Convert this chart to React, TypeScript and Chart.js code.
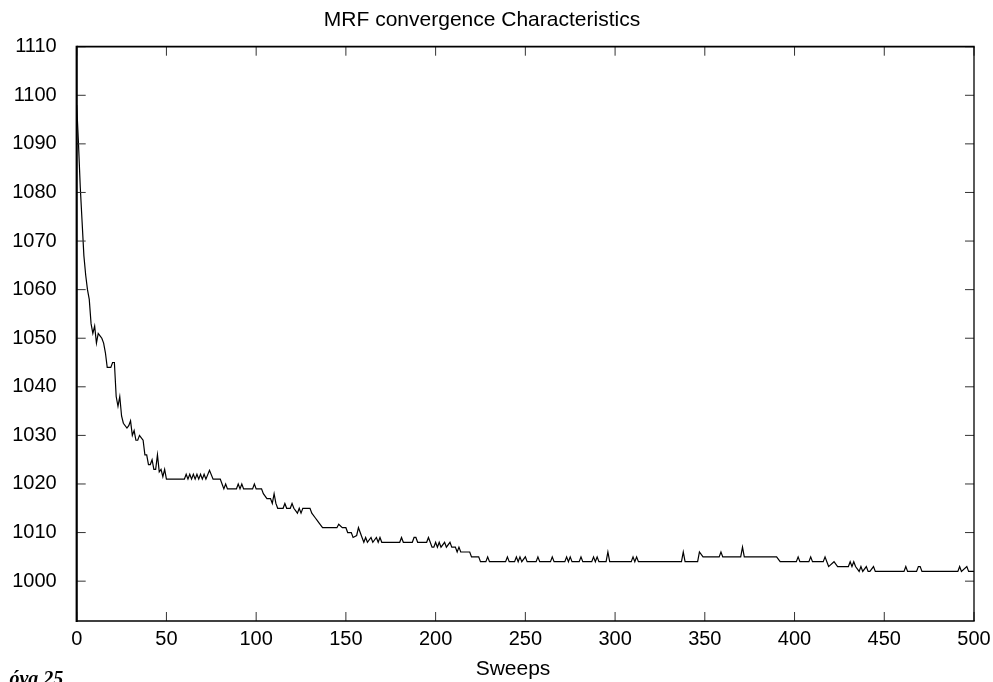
import React, { useEffect, useRef } from 'react';
import { Chart, registerables } from 'chart.js';

Chart.register(...registerables);

// ---- data (polyline vertices) ----
const sweeps = [
  0, 1, 2, 3, 4, 5, 6, 7, 8, 9, 10, 11, 12, 13, 14, 15, 16, 17, 19, 20, 21, 22, 23, 24, 25, 26, 28, 29, 30,
  31, 32, 33, 34, 35, 36, 37, 38, 39, 40, 41, 42, 43, 44, 45, 46, 47, 48, 49, 50, 60, 61, 62, 63, 64, 65,
  66, 67, 68, 69, 70, 71, 72, 74, 76, 80, 81, 82, 83, 84, 89, 90, 91, 92, 93, 98, 99, 100, 103, 104, 106,
  108, 109, 110, 111, 112, 115, 116, 117, 119, 120, 121, 123, 124, 125, 126, 130, 131, 133, 134, 135, 137,
  145, 146, 148, 150, 151, 153, 154, 156, 157, 159, 160, 161, 162, 164, 165, 167, 168, 169, 170, 180, 181,
  182, 187, 188, 189, 190, 195, 196, 197, 198, 199, 200, 201, 202, 203, 205, 206, 208, 209, 211, 212, 213,
  214, 219, 220, 224, 225, 228, 229, 230, 239, 240, 241, 244, 245, 246, 247, 248, 250, 251, 256, 257, 258,
  264, 265, 266, 272, 273, 274, 275, 276, 280, 281, 282, 287, 288, 289, 290, 291, 295, 296, 297, 309, 310,
  311, 312, 313, 337, 338, 339, 346, 347, 349, 358, 359, 360, 370, 371, 372, 390, 392, 401, 402, 403, 408,
  409, 410, 416, 417, 418, 419, 422, 424, 430, 431, 432, 433, 434, 436, 437, 438, 440, 441, 442, 444, 445,
  461, 462, 463, 468, 469, 470, 471, 491, 492, 493, 496, 497, 500,
];

const energy = [
  1098, 1090, 1081, 1074, 1067, 1063, 1060, 1058, 1053, 1051, 1052.5, 1049, 1051, 1050.5, 1050, 1049, 1047,
  1044, 1044, 1045, 1045, 1038, 1036, 1038, 1034, 1032.5, 1031.5, 1032, 1033,
  1030, 1031, 1029, 1029, 1030, 1029.5, 1029, 1026, 1026, 1024, 1024, 1025, 1023, 1023, 1026, 1022.5, 1023,
  1021.5, 1023, 1021, 1021, 1022, 1021, 1022, 1021, 1022,
  1021, 1022, 1021, 1022, 1021, 1022, 1021, 1022.8, 1021, 1021, 1020, 1019, 1020, 1019, 1019, 1020, 1019,
  1020, 1019, 1019, 1020, 1019, 1019, 1018, 1017,
  1017, 1016, 1018, 1016, 1015, 1015, 1016, 1015, 1015, 1016, 1015, 1014, 1015, 1014, 1015, 1015, 1014,
  1013, 1012.5, 1012, 1011,
  1011, 1011.7, 1011, 1011, 1010, 1010, 1009, 1009.4, 1011, 1009, 1008, 1009, 1008, 1009, 1008, 1009, 1008,
  1009, 1008, 1008, 1009,
  1008, 1008, 1009, 1009, 1008, 1008, 1009, 1008, 1007, 1007, 1008, 1007, 1008, 1007, 1008, 1007, 1008,
  1007, 1007, 1006, 1007,
  1006, 1006, 1005, 1005, 1004, 1004, 1005, 1004, 1004, 1005, 1004, 1004, 1005, 1004, 1005, 1004, 1005,
  1004, 1004, 1005, 1004,
  1004, 1005, 1004, 1004, 1005, 1004, 1005, 1004, 1004, 1005, 1004, 1004, 1005, 1004, 1005, 1004, 1004,
  1006, 1004, 1004, 1005,
  1004, 1005, 1004, 1004, 1006, 1004, 1004, 1006, 1005, 1005, 1006, 1005, 1005, 1007, 1005, 1005, 1004,
  1004, 1005, 1004, 1004,
  1005, 1004, 1004, 1005, 1004, 1003, 1004, 1003, 1003, 1004, 1003, 1004, 1003, 1002, 1003, 1002, 1003,
  1002, 1002, 1003, 1002,
  1002, 1003, 1002, 1002, 1003, 1003, 1002, 1002, 1003, 1002, 1003, 1002, 1002,
];

const xTicks = [0, 50, 100, 150, 200, 250, 300, 350, 400, 450, 500];
const yTicks = [1000, 1010, 1020, 1030, 1040, 1050, 1060, 1070, 1080, 1090, 1100, 1110];

const titleText = 'MRF convergence Characteristics';
const xLabel = 'Sweeps';
const caption = 'óva 25';

const FONT = '"Liberation Sans", Arial, Helvetica, sans-serif';
const SHIFT = 10; // canvas starts 10px left of the page edge

export default function App() {
  const ref = useRef<HTMLCanvasElement | null>(null);

  useEffect(() => {
    if (!ref.current) return;

    const frame = {
      id: 'gnuframe',
      afterDraw(chart: any) {
        const { ctx, chartArea } = chart;
        const { left, right, top, bottom } = chartArea;
        const xs = chart.scales.x;
        const ys = chart.scales.y;
        ctx.save();
        const seg = (x1: number, y1: number, x2: number, y2: number) => {
          ctx.beginPath();
          ctx.moveTo(x1, y1);
          ctx.lineTo(x2, y2);
          ctx.stroke();
        };
        // inward tick marks, mirrored on all sides
        ctx.strokeStyle = '#333';
        ctx.lineWidth = 1;
        xTicks.forEach((v) => {
          const px = xs.getPixelForValue(v);
          seg(px, bottom, px, bottom - 9);
          seg(px, top, px, top + 9);
        });
        yTicks.forEach((v) => {
          const py = ys.getPixelForValue(v);
          seg(left, py, left + 9, py);
          seg(right, py, right - 9, py);
        });
        // box
        ctx.strokeStyle = '#000';
        ctx.lineWidth = 2.2;
        seg(left, top - 1, left, bottom + 1);
        ctx.lineWidth = 1.8;
        seg(left, top, right + 0.7, top);
        ctx.lineWidth = 1.3;
        seg(right, top, right, bottom);
        seg(left, bottom, right + 0.7, bottom);
        // x-axis label
        ctx.fillStyle = '#000';
        ctx.font = `21px ${FONT}`;
        ctx.textAlign = 'center';
        ctx.textBaseline = 'alphabetic';
        ctx.fillText(xLabel, 513 + SHIFT, 675);
        ctx.restore();
      },
    };

    const chart = new Chart(ref.current, {
      type: 'line',
      data: {
        datasets: [
          {
            data: sweeps.map((x, i) => ({ x, y: energy[i] })),
            borderColor: '#000',
            borderWidth: 1.2,
            pointRadius: 0,
            tension: 0,
            fill: false,
          },
        ],
      },
      options: {
        animation: false,
        responsive: false,
        maintainAspectRatio: false,
        devicePixelRatio: 1,
        layout: { padding: { left: 0, right: 19, top: 0, bottom: 0 } },
        plugins: {
          legend: { display: false },
          tooltip: { enabled: false },
          title: {
            display: true,
            text: titleText,
            color: '#000',
            font: { family: FONT, size: 21, weight: 'normal' },
            padding: { top: 7.4, bottom: 14.1 },
          },
        },
        scales: {
          x: {
            type: 'linear',
            min: 0,
            max: 500,
            afterBuildTicks: (s: any) => {
              s.ticks = xTicks.map((v) => ({ value: v }));
            },
            afterFit: (s: any) => {
              s.height = 61;
              s.paddingLeft = 0;
              s.paddingRight = 0;
            },
            grid: { display: false, drawTicks: false },
            border: { display: false },
            ticks: {
              color: '#000',
              font: { family: FONT, size: 20 },
              padding: 6,
              maxRotation: 0,
              autoSkip: false,
              callback: (v: any) => String(v),
            },
          },
          y: {
            type: 'linear',
            min: 991.8,
            max: 1110,
            afterBuildTicks: (s: any) => {
              s.ticks = yTicks.map((v) => ({ value: v }));
            },
            afterFit: (s: any) => {
              s.width = 76.7 + SHIFT;
              s.paddingTop = 0;
              s.paddingBottom = 0;
            },
            grid: { display: false, drawTicks: false },
            border: { display: false },
            ticks: {
              color: '#000',
              font: { family: FONT, size: 20 },
              padding: 20,
              autoSkip: false,
              callback: (v: any) => String(v),
            },
          },
        },
      },
      plugins: [frame],
    } as any);

    return () => chart.destroy();
  }, []);

  return (
    <div
      style={{
        position: 'absolute',
        left: 0,
        top: 0,
        width: 993,
        height: 682,
        overflow: 'hidden',
        background: '#fff',
      }}
    >
      <canvas
        ref={ref}
        width={993 + SHIFT}
        height={682}
        style={{ position: 'absolute', left: -SHIFT, top: 0, display: 'block' }}
      />
      <div
        style={{
          position: 'absolute',
          right: 993 - 63.3,
          top: 668.3,
          fontFamily: '"Liberation Serif", "Times New Roman", serif',
          fontWeight: 'bold',
          fontStyle: 'italic',
          fontSize: 20,
          lineHeight: '20px',
          whiteSpace: 'nowrap',
          color: '#000',
        }}
      >
        {caption}
      </div>
    </div>
  );
}
